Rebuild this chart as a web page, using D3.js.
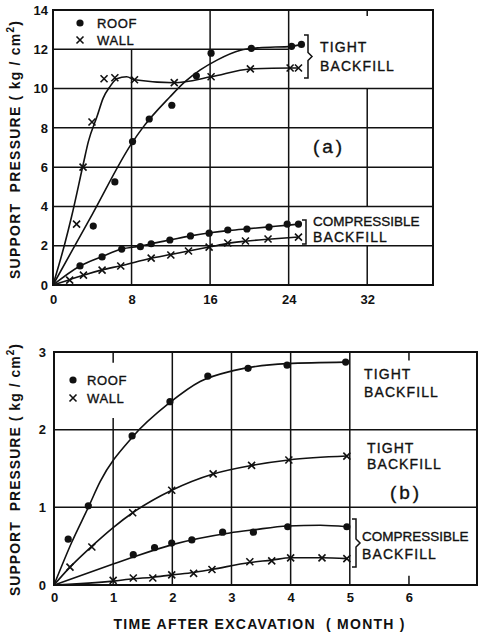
<!DOCTYPE html>
<html lang="en">
<head>
  <meta charset="UTF-8">
  <title>Support pressure vs time</title>
  <style>
    body, html { margin: 0; padding: 0; background: #fff; }
    svg { display: block; }
    text { font-family: 'Liberation Sans', Arial, sans-serif; fill: #111; }
  </style>
</head>
<body>
  <svg id="svg" width="478" height="634"></svg>
  <script src="https://d3js.org/d3.v7.min.js"></script>
  <script>
    // ---- panel (a): time in months, pressure kg/cm2 ----
    const xTicksA = [0, 8, 16, 24, 32]
    const yTicksA = [0, 2, 4, 6, 8, 10, 12, 14]

    const roofTightA = [[4.1, 3.0], [6.3, 5.25], [8.1, 7.3], [9.8, 8.45], [12.1, 9.15], [14.6, 10.65], [16.1, 11.8], [20.2, 12.05], [24.3, 12.15], [25.3, 12.25]]
    const wallTightA = [[2.4, 3.1], [3.06, 6.0], [3.97, 8.3], [5.2, 10.5], [6.3, 10.55], [8.3, 10.45], [12.35, 10.3], [16.1, 10.6], [20.1, 11.0], [24.15, 11.05], [25.0, 11.05]]
    const roofCompA = [[2.75, 0.97], [5.0, 1.43], [7.0, 1.83], [8.9, 1.95], [10.0, 2.1], [11.9, 2.29], [14.0, 2.5], [15.9, 2.64], [17.8, 2.8], [19.75, 2.85], [22.0, 2.95], [23.85, 3.1], [25.0, 3.1]]
    const wallCompA = [[1.7, 0.25], [3.1, 0.5], [5.0, 0.76], [6.9, 0.97], [10.0, 1.37], [12.0, 1.53], [13.8, 1.73], [15.9, 1.93], [17.8, 2.14], [19.6, 2.24], [21.9, 2.34], [25.0, 2.44]]

    // hand drawn fit curves
    const fitRoofTightA = [[0, 0], [4, 3.6], [8, 7.2], [9.2, 8.05], [11.9, 9.57], [13.45, 10.35], [15, 10.95], [16.7, 11.45], [19.1, 11.95], [21, 12.08], [24.3, 12.15], [25.3, 12.25]]
    const fitWallTightA = [[0, 0], [1.2, 2.1], [1.9, 3.5], [3.1, 6.2], [3.6, 7.3], [4.5, 8.6], [5.1, 9.5], [5.8, 10.1], [6.5, 10.5], [7.5, 10.6], [8.3, 10.45], [12.35, 10.3], [16.1, 10.6], [20.1, 11.0], [24.15, 11.05], [25, 11.05]]
    const fitRoofCompA = [[0, 0], [2.75, 0.97], [5, 1.45], [7, 1.83], [8.9, 1.98], [10, 2.1], [12, 2.3], [14, 2.5], [16, 2.66], [18, 2.78], [20, 2.87], [22, 2.96], [24, 3.05], [25, 3.1]]
    const fitWallCompA = [[0, 0], [1.7, 0.27], [3.1, 0.5], [5, 0.77], [6.9, 0.98], [10, 1.36], [12, 1.55], [13.8, 1.73], [15.9, 1.93], [17.8, 2.12], [19.6, 2.23], [21.9, 2.33], [25, 2.44]]

    // ---- panel (b) ----
    const xTicksB = [0, 1, 2, 3, 4, 5, 6]
    const yTicksB = [0, 1, 2, 3]

    const roofTightB = [[0.24, 0.59], [0.58, 1.02], [1.32, 1.92], [1.96, 2.36], [2.6, 2.69], [3.28, 2.79], [3.94, 2.83], [4.93, 2.87]]
    const wallTightB = [[0.27, 0.23], [0.64, 0.49], [1.33, 0.93], [1.99, 1.22], [2.69, 1.43], [3.34, 1.54], [3.97, 1.61], [4.95, 1.66]]
    const roofCompB = [[1.34, 0.39], [1.7, 0.48], [1.99, 0.54], [2.33, 0.58], [2.85, 0.68], [3.37, 0.68], [3.95, 0.75], [4.95, 0.75]]
    const wallCompB = [[1.0, 0.06], [1.34, 0.09], [1.67, 0.09], [1.99, 0.13], [2.36, 0.15], [2.67, 0.2], [3.31, 0.3], [3.68, 0.31], [4.0, 0.35], [4.53, 0.35], [4.95, 0.34]]

    const fitRoofTightB = [[0, 0], [0.3, 0.55], [0.58, 1.0], [0.78, 1.33], [1.32, 1.9], [1.96, 2.35], [2.47, 2.62], [3.03, 2.76], [3.94, 2.85], [4.93, 2.87]]
    const fitWallTightB = [[0, 0], [0.27, 0.23], [0.64, 0.5], [1.0, 0.74], [1.33, 0.93], [1.99, 1.22], [2.69, 1.43], [3.34, 1.54], [3.97, 1.61], [4.95, 1.66]]
    const fitRoofCompB = [[0, 0], [1, 0.27], [1.34, 0.36], [2, 0.52], [2.97, 0.67], [3.37, 0.71], [3.95, 0.76], [4.5, 0.77], [4.95, 0.75]]
    const fitWallCompB = [[0, 0], [1, 0.05], [1.34, 0.08], [1.67, 0.1], [1.99, 0.13], [2.36, 0.16], [2.67, 0.2], [3.31, 0.29], [3.68, 0.32], [4, 0.35], [4.53, 0.35], [4.95, 0.34]]

    const ink = '#111'
    const cross = 'M-3.5,-3.5L3.5,3.5M-3.5,3.5L3.5,-3.5'
    const svg = d3.select('#svg')
    svg.append('rect').attr('width', 478).attr('height', 634).attr('fill', '#fff')

    function panel(cfg) {
      const g = svg.append('g')
      const x = d3.scaleLinear().domain(cfg.xDomain).range(cfg.xRange)
      const y = d3.scaleLinear().domain(cfg.yDomain).range(cfg.yRange)
      const xMax = cfg.xDomain[1], yMax = cfg.yDomain[1]

      // grid, with the gaps the original leaves for legend and labels
      g.selectAll('.vg').data(cfg.vGrid).enter().append('line')
        .attr('x1', d => x(d[0])).attr('x2', d => x(d[0]))
        .attr('y1', d => y(d[1])).attr('y2', d => y(d[2] === null ? yMax : d[2]))
        .attr('stroke', ink).attr('stroke-width', 1.5)
      g.selectAll('.hg').data(cfg.hGrid).enter().append('line')
        .attr('y1', d => y(d[0])).attr('y2', d => y(d[0]))
        .attr('x1', d => x(d[1])).attr('x2', d => x(d[2] === null ? xMax : d[2]))
        .attr('stroke', ink).attr('stroke-width', 1.5)

      g.append('rect')
        .attr('x', cfg.xRange[0]).attr('y', cfg.yRange[1])
        .attr('width', cfg.xRange[1] - cfg.xRange[0])
        .attr('height', cfg.yRange[0] - cfg.yRange[1])
        .attr('fill', 'none').attr('stroke', ink).attr('stroke-width', 2)

      const yAxis = g.append('g')
        .attr('transform', `translate(${cfg.xRange[0]},0)`)
        .call(d3.axisLeft(y).tickValues(cfg.yTicks).tickSize(0).tickPadding(cfg.yPad).tickFormat(d3.format('d')))
      const xAxis = g.append('g')
        .attr('transform', `translate(0,${cfg.yRange[0]})`)
        .call(d3.axisBottom(x).tickValues(cfg.xTicks).tickSize(0).tickPadding(cfg.xPad).tickFormat(d3.format('d')))
      for (const ax of [yAxis, xAxis]) {
        ax.select('.domain').remove()
        ax.selectAll('text')
          .style('font-family', "'Liberation Sans', Arial, sans-serif")
          .style('font-size', '13px').style('font-weight', 'bold').attr('fill', ink)
      }

      const line = d3.line().x(d => x(d[0])).y(d => y(d[1])).curve(d3.curveMonotoneX)
      cfg.fits.forEach(f => {
        g.append('path').attr('d', line(f))
          .attr('fill', 'none').attr('stroke', ink).attr('stroke-width', 1.6)
      })

      cfg.dots.forEach(s => {
        g.selectAll(null).data(s).enter().append('circle')
          .attr('cx', d => x(d[0])).attr('cy', d => y(d[1])).attr('r', 3.6).attr('fill', ink)
      })
      cfg.crosses.forEach(s => {
        g.selectAll(null).data(s).enter().append('path')
          .attr('transform', d => `translate(${x(d[0])},${y(d[1])})`)
          .attr('d', cross)
          .attr('stroke', ink).attr('stroke-width', 1.6).attr('fill', 'none')
      })
      return g
    }

    const gA = panel({
      xDomain: [0, 38.7], xRange: [53, 433],
      yDomain: [0, 14], yRange: [285, 10],
      xTicks: xTicksA, yTicks: yTicksA, xPad: 10, yPad: 5,
      vGrid: [[8, 0, 12], [16, 0, null], [24, 0, null], [32, 0, 2], [32, 4, 10], [32, 13.7, null]],
      hGrid: [[2, 0, null], [4, 0, null], [6, 0, null], [8, 0, null], [10, 0, null], [12, 0, 24]],
      fits: [fitRoofTightA, fitWallTightA, fitRoofCompA, fitWallCompA],
      dots: [roofTightA, roofCompA],
      crosses: [wallTightA, wallCompA]
    })

    const gB = panel({
      xDomain: [0, 7.15], xRange: [54, 477],
      yDomain: [0, 3], yRange: [585, 352],
      xTicks: xTicksB, yTicks: yTicksB, xPad: 8, yPad: 8,
      vGrid: [[1, 0, 2.15], [1, 2.86, null], [2, 0, null], [3, 0, null], [4, 0, null], [5, 0, null], [6, 0, 0.12], [6, 2.89, null]],
      hGrid: [[1, 0, null], [2, 0, null]],
      fits: [fitRoofTightB, fitWallTightB, fitRoofCompB, fitWallCompB],
      dots: [roofTightB, roofCompB],
      crosses: [wallTightB, wallCompB]
    })

    // text with a thin outline to match the heavier lettering of the original
    function ink_text(sel, size, spacing) {
      return sel.style('font-size', size + 'px').style('letter-spacing', spacing + 'px')
        .attr('stroke', ink).attr('stroke-width', 0.35)
    }

    function legend(g, cx, cy1, cy2, tx) {
      g.append('circle').attr('cx', cx).attr('cy', cy1).attr('r', 3.6).attr('fill', ink)
      g.append('path').attr('transform', `translate(${cx},${cy2})`)
        .attr('d', cross).attr('stroke', ink).attr('stroke-width', 1.6)
      ink_text(g.append('text').attr('x', tx).attr('y', cy1 + 4.6).text('ROOF'), 13, 0.6)
      ink_text(g.append('text').attr('x', tx).attr('y', cy2 + 4.6).text('WALL'), 13, 0.6)
    }
    legend(gA, 80, 23, 40, 97)
    legend(gB, 73, 380, 398, 87)

    function label(g, x, y, str) {
      const wide = str === 'COMPRESSIBLE'
      ink_text(g.append('text').attr('x', x).attr('y', y).text(str), wide ? 13.5 : 14, wide ? 0 : 1.1)
    }
    // brace: top, bottom, x of the spine, optional middle kink
    function brace(g, x, y1, y2, kink) {
      const m = (y1 + y2) / 2
      const d = kink
        ? `M${x - 4},${y1}H${x}V${m - 4}L${x + 4},${m}L${x},${m + 4}V${y2}H${x - 4}`
        : `M${x - 4},${y1}H${x}V${y2}H${x - 4}`
      g.append('path').attr('d', d).attr('fill', 'none').attr('stroke', ink).attr('stroke-width', 1.5)
    }

    brace(gA, 308, 35, 78, true)
    label(gA, 320, 52, 'TIGHT')
    label(gA, 320, 71, 'BACKFILL')
    brace(gA, 306, 220, 244, false)
    label(gA, 313, 226, 'COMPRESSIBLE')
    label(gA, 313, 242, 'BACKFILL')
    ink_text(gA.append('text').attr('x', 329).attr('y', 153).attr('text-anchor', 'middle').text('(a)'), 19, 3)

    label(gB, 364, 379, 'TIGHT')
    label(gB, 364, 397, 'BACKFILL')
    label(gB, 367, 453, 'TIGHT')
    label(gB, 367, 469, 'BACKFILL')
    brace(gB, 356, 519, 567, true)
    label(gB, 362, 541, 'COMPRESSIBLE')
    label(gB, 362, 559, 'BACKFILL')
    ink_text(gB.append('text').attr('x', 406).attr('y', 499).attr('text-anchor', 'middle').text('(b)'), 19, 3)

    // axis titles
    function yTitle(cy, len) {
      const t = svg.append('text')
        .attr('transform', `translate(20,${cy}) rotate(-90)`)
        .attr('text-anchor', 'middle')
        .attr('textLength', len).attr('lengthAdjust', 'spacing')
        .style('font-size', '14px').style('font-weight', 'bold').style('white-space', 'pre')
      t.append('tspan').text('SUPPORT  PRESSURE ( kg / cm')
      t.append('tspan').attr('dy', -6).style('font-size', '10px').text('2')
      t.append('tspan').attr('dy', 6).text(')')
    }
    yTitle(150, 258)
    yTitle(470, 252)

    svg.append('text').attr('x', 259).attr('y', 629).attr('text-anchor', 'middle')
      .attr('textLength', 291).attr('lengthAdjust', 'spacing')
      .style('font-size', '14px').style('font-weight', 'bold').style('white-space', 'pre')
      .text('TIME AFTER EXCAVATION  ( MONTH )')
  </script>
</body>
</html>
